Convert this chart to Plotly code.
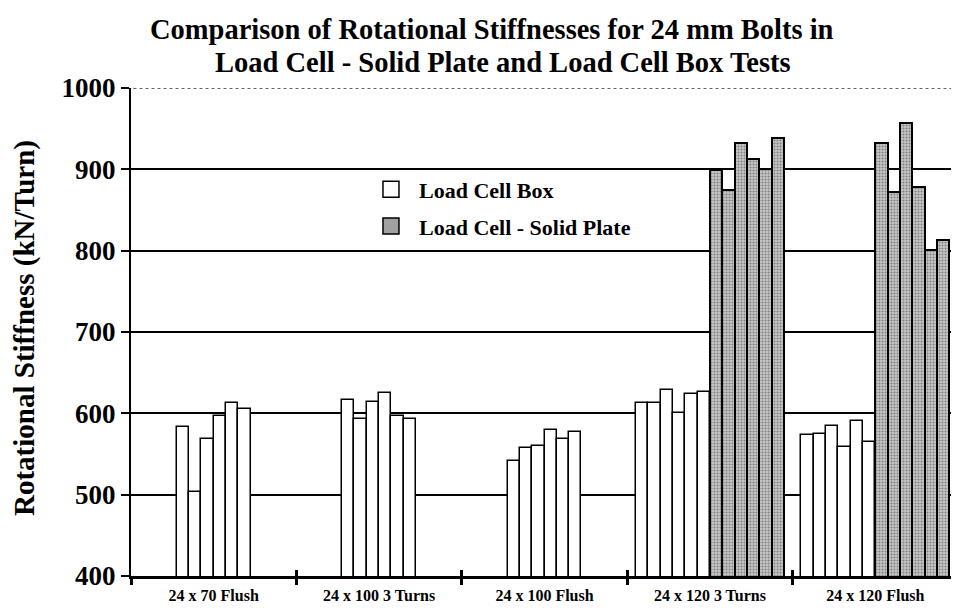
import plotly.graph_objects as go

categories = ["24 x 70 Flush", "24 x 100 3 Turns", "24 x 100 Flush", "24 x 120 3 Turns", "24 x 120 Flush"]
box_values = [
    [583, 503, 569, 597, 613, 605],
    [616, 593, 614, 625, 597, 593],
    [541, 557, 560, 580, 569, 577],
    [613, 613, 629, 600, 624, 626],
    [573, 575, 585, 558, 590, 565],
]
plate_values = [
    [],
    [],
    [],
    [899, 875, 932, 913, 900, 939],
    [932, 872, 957, 878, 801, 813],
]
y_ticks = [400, 500, 600, 700, 800, 900, 1000]

BAR_W = 0.0745
SERIF = "Times New Roman, Liberation Serif, Tinos, serif"

x_box, y_box, x_plate, y_plate = [], [], [], []
for g, (bv, pv) in enumerate(zip(box_values, plate_values)):
    n = len(bv) + len(pv)
    for j, v in enumerate(bv + pv):
        pos = g + (j - (n - 1) / 2) * BAR_W
        if j < len(bv):
            x_box.append(pos); y_box.append(v)
        else:
            x_plate.append(pos); y_plate.append(v)

centers = list(range(len(categories)))
bounds = [c - 0.5 for c in centers] + [centers[-1] + 0.5]

fig = go.Figure()
fig.add_trace(go.Bar(
    x=x_box, y=y_box, width=BAR_W, showlegend=False,
    marker=dict(color="white", line=dict(color="black", width=1.5)),
))
fig.add_trace(go.Bar(
    x=x_plate, y=y_plate, width=BAR_W, showlegend=False,
    marker=dict(color="#b0b0b0", line=dict(color="black", width=2),
                pattern=dict(shape=".", fgcolor="#383838", bgcolor="#c8c8c8",
                             size=3, solidity=0.4)),
))
# legend entries
fig.add_trace(go.Scatter(
    x=[None], y=[None], mode="markers", name="Load Cell Box", legendgroup="a",
    marker=dict(symbol="square", size=16, color="white", line=dict(color="black", width=1.5)),
))
fig.add_trace(go.Scatter(
    x=[None], y=[None], mode="markers", name="Load Cell - Solid Plate", legendgroup="b",
    marker=dict(symbol="square", size=16, color="#a0a0a0", line=dict(color="black", width=1.5)),
))
# helper for inside ticks on overlay axis
fig.add_trace(go.Scatter(
    x=[0], y=[400], xaxis="x2", mode="markers", marker=dict(opacity=0),
    showlegend=False, hoverinfo="skip",
))

fig.update_layout(
    width=951, height=604,
    margin=dict(l=123, r=1, t=80, b=36),
    paper_bgcolor="white", plot_bgcolor="white",
    barmode="overlay", bargap=0,
    showlegend=True,
    legend=dict(x=0.2805, y=0.835, xanchor="left", yanchor="top", itemwidth=46,
                font=dict(family=SERIF, size=22, color="black", weight="bold"),
                bgcolor="rgba(0,0,0,0)", tracegroupgap=5, traceorder="grouped"),
    xaxis=dict(
        range=[bounds[0], bounds[-1]], tickvals=centers, ticktext=categories,
        ticks="", showgrid=False, zeroline=False, ticklabelstandoff=3,
        showline=True, linecolor="black", linewidth=3,
        tickfont=dict(family=SERIF, size=16, color="black", weight="bold"),
        minor=dict(tickvals=bounds, ticks="outside", ticklen=6, tickwidth=3,
                   tickcolor="black", showgrid=False),
    ),
    xaxis2=dict(
        overlaying="x", matches="x", range=[bounds[0], bounds[-1]],
        tickvals=bounds, ticks="inside", ticklen=6, tickwidth=3, tickcolor="black",
        showticklabels=False, showgrid=False, zeroline=False, showline=False,
    ),
    yaxis=dict(
        range=[y_ticks[0], y_ticks[-1]], tickvals=y_ticks,
        ticks="outside", ticklen=8, tickwidth=2, tickcolor="black",
        showline=True, linecolor="black", linewidth=2,
        showgrid=True, gridcolor="black", gridwidth=1.5, zeroline=False,
        tickfont=dict(family=SERIF, size=27, color="black", weight="bold"),
    ),
    shapes=[
        dict(type="line", xref="paper", x0=0.003, x1=1, yref="y", y0=y_ticks[-1], y1=y_ticks[-1],
             line=dict(color="white", width=4), layer="above"),
        dict(type="line", xref="paper", x0=0.003, x1=1, yref="y", y0=y_ticks[-1], y1=y_ticks[-1],
             line=dict(color="#333333", width=1.5, dash="dot"), layer="above"),
    ],
    annotations=[
        dict(text="Comparison of Rotational Stiffnesses for 24 mm Bolts in",
             xref="paper", yref="paper", x=0.437, y=1.119, showarrow=False,
             xanchor="center", yanchor="middle",
             font=dict(family=SERIF, size=28.5, color="black", weight="bold")),
        dict(text="Load Cell - Solid Plate and Load Cell Box Tests",
             xref="paper", yref="paper", x=0.450, y=1.053, showarrow=False,
             xanchor="center", yanchor="middle",
             font=dict(family=SERIF, size=28.5, color="black", weight="bold")),
        dict(text="Rotational Stiffness (kN/Turn)",
             xref="paper", yref="paper", x=-0.1295, y=0.508, showarrow=False,
             xanchor="center", yanchor="middle", textangle=-90,
             font=dict(family=SERIF, size=29, color="black", weight="bold")),
    ],
)

fig.write_html("out.html")
